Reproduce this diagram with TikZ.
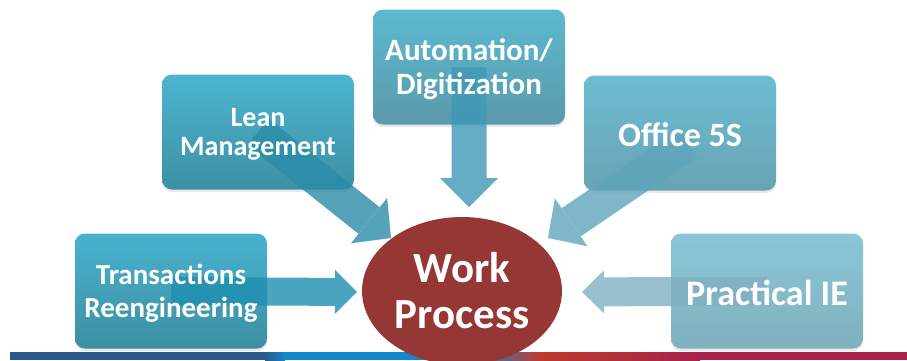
\documentclass[tikz,border=0pt]{standalone}
\usepackage{fontspec}
\setmainfont{Carlito}
\usetikzlibrary{arrows.meta,shapes.geometric,shadows}
\definecolor{wpred}{HTML}{953735}
\definecolor{bardark}{HTML}{2A5A8C}
\definecolor{barblue}{HTML}{1188CC}
\definecolor{barred}{HTML}{C0392F}
\definecolor{barcrim}{HTML}{A8234A}
\definecolor{transtop}{HTML}{49B2CF}\definecolor{transbot}{HTML}{3D8FA1}
\definecolor{leantop}{HTML}{4DB5D0}\definecolor{leanbot}{HTML}{3C90A4}
\definecolor{autotop}{HTML}{5CB9D1}\definecolor{autobot}{HTML}{5B9AAB}
\definecolor{officetop}{HTML}{6DBDD3}\definecolor{officebot}{HTML}{68A3B3}
\definecolor{practop}{HTML}{8BC7D7}\definecolor{pracbot}{HTML}{7FB0BE}
\definecolor{transarr}{HTML}{1E8FB0}
\definecolor{leanarr}{HTML}{2A8CA8}
\definecolor{autoarr}{HTML}{3E99B6}
\definecolor{officearr}{HTML}{5FA5BB}
\definecolor{pracarr}{HTML}{80B0C2}

\begin{document}
\begin{tikzpicture}[x=1pt,y=-1pt,
  box/.style={rounded corners=10pt, minimum width=192pt, minimum height=115pt,
    top color=#1top, bottom color=#1bot,
    drop shadow={opacity=0.18,shadow xshift=0pt,shadow yshift=-2.5pt}},
  boxtext/.style 2 args={text=white, align=center, yshift=-2pt,
    font=\bfseries\fontsize{#1}{#2}\selectfont},
  feed/.style n args={4}{draw=#1arr, line width=#2,
    -{Triangle[width=#3,length=#4,line width=0pt]}}]
\useasboundingbox (0,0) rectangle (907,360);

% bottom band
\fill[bardark] (10,352) rectangle (265,360);
\shade[left color=bardark, right color=barblue] (265,352) rectangle (285,360);
\fill[barblue] (285,352) rectangle (470,360);
\shade[left color=barblue, right color=barred] (470,352) rectangle (540,360);
\shade[left color=barred, right color=barcrim] (540,352) rectangle (700,360);
\fill[barcrim] (700,352) rectangle (907,360);

% boxes
\node[box=trans] (trans) at (171,291) {};
\node[box=lean] (lean) at (258,132) {};
\node[box=auto] (auto) at (469,67) {};
\node[box=office] (office) at (680,133) {};
\node[box=prac] (prac) at (767,291) {};

\coordinate (trans tip) at (357,292);
\coordinate (lean tip) at (391,238);
\coordinate (auto tip) at (469,207);
\coordinate (office tip) at (548,238);
\coordinate (prac tip) at (582,292);

\begin{scope}[transparency group, opacity=0.8]
  \draw[feed={trans}{28pt}{44pt}{22pt}] (trans.center) -- (trans tip);
  \draw[feed={lean}{34pt}{58pt}{28pt}] (lean.center) -- (lean tip);
  \draw[feed={auto}{35pt}{58pt}{29pt}] (auto.center) -- (auto tip);
  \draw[feed={office}{34pt}{58pt}{28pt}] ([xshift=8pt,yshift=-10pt]office.center) -- (office tip);
  \draw[feed={prac}{29pt}{43pt}{22pt}] (prac.center) -- (prac tip);
\end{scope}

\node[boxtext={29}{33}] at (trans) {Transactions\\Reengineering};
\node[boxtext={28}{29}] at (lean) {Lean\\Management};
\node[boxtext={31}{34}] at (auto) {Automation/\\Digitization};
\node[boxtext={34}{38}] at (office) {Office 5S};
\node[boxtext={36}{40}] at (prac) {Practical IE};

\node[ellipse, fill=wpred, minimum width=188pt, minimum height=148pt,
  text=white, align=center, font=\bfseries\fontsize{43}{46}\selectfont]
  (work) at (462,291) {Work\\Process};
\end{tikzpicture}
\end{document}
